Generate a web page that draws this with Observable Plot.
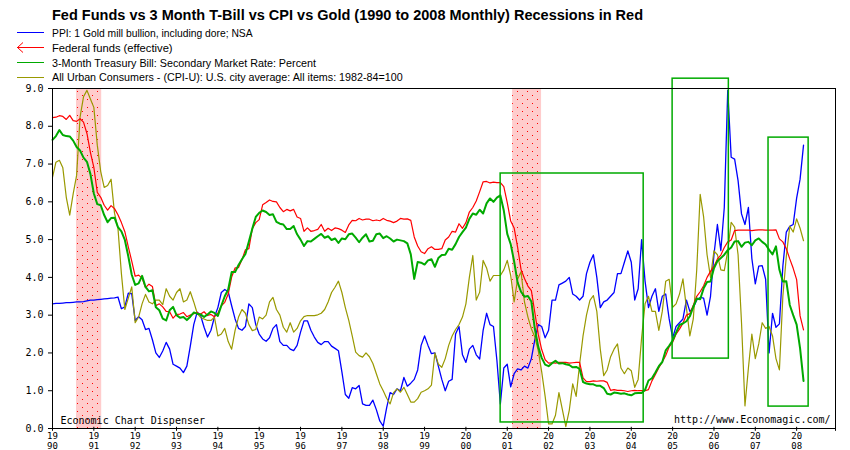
<!DOCTYPE html>
<html><head><meta charset="utf-8">
<script src="https://cdn.jsdelivr.net/npm/d3@7"></script>
<script src="https://cdn.jsdelivr.net/npm/@observablehq/plot@0.6"></script>
<style>
body{margin:0;background:#fff;width:850px;height:450px;overflow:hidden;font-family:"Liberation Sans",Arial,sans-serif;position:relative;}
#header{position:absolute;left:0;top:0;width:850px;height:84px;z-index:2;pointer-events:none;}
#chart{padding-top:70px;}
#title{position:absolute;left:52px;top:8px;font:bold 14px "Liberation Sans",Arial,sans-serif;line-height:14px;white-space:nowrap;transform-origin:0 0;color:#000;}
.leg{position:absolute;left:52px;font:11px "Liberation Sans",Arial,sans-serif;line-height:12px;white-space:nowrap;transform-origin:0 50%;color:#000;}
#legsvg{position:absolute;left:0;top:0;}
</style></head><body>
<div id="header">
<svg id="legsvg" width="60" height="84">
<line x1="17" y1="32.5" x2="44" y2="32.5" stroke="#0000ff"/>
<line x1="17" y1="47.5" x2="44" y2="47.5" stroke="#ff0000"/>
<polyline points="23,42.5 17.5,47.5 23,52.5" fill="none" stroke="#ff0000"/>
<line x1="17" y1="62.5" x2="44" y2="62.5" stroke="#00aa00"/>
<line x1="17" y1="77.5" x2="44" y2="77.5" stroke="#999900"/>
</svg>
<div id="title">Fed Funds vs 3 Month T-Bill vs CPI vs Gold (1990 to 2008 Monthly) Recessions in Red</div>
<div class="leg" id="l1" style="top:26.6px">PPI: 1 Gold mill bullion, including dore; NSA</div>
<div class="leg" id="l2" style="top:41.6px">Federal funds (effective)</div>
<div class="leg" id="l3" style="top:56.6px">3-Month Treasury Bill: Secondary Market Rate: Percent</div>
<div class="leg" id="l4" style="top:71.3px">All Urban Consumers - (CPI-U): U.S. city average: All items: 1982-84=100</div>
</div>
<div id="chart"></div>
<script>
// ---- data (monthly, starting January 1990) ----
const startYear = 1990;

const fedFunds = [
8.23,8.24,8.28,8.26,8.18,8.29,8.15,8.13,8.20,8.11,7.81,7.31,
6.91,6.25,6.12,5.91,5.78,5.90,5.82,5.66,5.45,5.21,4.81,4.43,
4.03,4.06,3.98,3.73,3.82,3.76,3.25,3.30,3.22,3.10,3.09,2.92,
3.02,3.03,3.07,2.96,3.00,3.04,3.06,3.03,3.09,2.99,3.02,2.96,
3.05,3.25,3.34,3.56,4.01,4.25,4.26,4.47,4.73,4.76,5.29,5.45,
5.53,5.92,5.98,6.05,6.01,6.00,5.85,5.74,5.80,5.76,5.80,5.60,
5.56,5.22,5.31,5.22,5.24,5.27,5.40,5.22,5.30,5.24,5.31,5.29,
5.25,5.19,5.39,5.51,5.50,5.56,5.52,5.54,5.54,5.50,5.52,5.50,
5.56,5.51,5.49,5.45,5.49,5.56,5.54,5.55,5.51,5.07,4.83,4.68,
4.63,4.76,4.81,4.74,4.74,4.76,4.99,5.07,5.22,5.20,5.42,5.30,
5.45,5.73,5.85,6.02,6.27,6.53,6.54,6.50,6.52,6.51,6.51,6.40,
5.98,5.49,5.31,4.80,4.21,3.97,3.77,3.65,3.07,2.49,2.09,1.82,
1.73,1.74,1.73,1.75,1.75,1.75,1.73,1.74,1.75,1.75,1.34,1.24,
1.24,1.26,1.25,1.26,1.26,1.22,1.01,1.03,1.01,1.01,1.00,0.98,
1.00,1.01,1.00,1.00,1.00,1.03,1.26,1.43,1.61,1.76,1.93,2.16,
2.28,2.50,2.63,2.79,3.00,3.04,3.26,3.50,3.62,3.78,4.00,4.16,
4.29,4.49,4.59,4.79,4.94,4.99,5.24,5.25,5.25,5.25,5.25,5.24,
5.25,5.26,5.26,5.25,5.25,5.25,5.26,5.02,4.94,4.76,4.49,4.24,
3.94,2.98,2.61];

const tBill3m = [
7.64,7.74,7.90,7.77,7.74,7.73,7.62,7.45,7.36,7.17,7.06,6.74,
6.22,5.94,5.91,5.65,5.46,5.57,5.58,5.33,5.22,4.99,4.56,4.07,
3.80,3.84,4.04,3.75,3.63,3.66,3.21,3.13,2.91,2.86,3.13,3.22,
3.00,2.93,2.95,2.87,2.96,3.07,3.04,3.02,2.95,3.02,3.10,3.06,
2.98,3.25,3.50,3.68,4.14,4.14,4.33,4.48,4.62,4.95,5.29,5.60,
5.71,5.77,5.73,5.65,5.67,5.47,5.42,5.40,5.28,5.28,5.36,5.14,
5.00,4.83,4.96,4.95,5.02,5.09,5.15,5.05,5.09,4.99,5.03,4.91,
5.03,5.01,5.14,5.16,5.05,4.93,5.05,5.14,4.95,4.97,5.14,5.16,
5.04,5.09,5.03,4.95,5.00,4.98,4.96,4.90,4.61,3.96,4.41,4.39,
4.34,4.45,4.48,4.28,4.51,4.59,4.60,4.76,4.73,4.88,5.07,5.20,
5.32,5.55,5.69,5.66,5.79,5.69,5.96,6.09,6.00,6.11,6.17,5.77,
5.15,4.88,4.42,3.87,3.62,3.49,3.51,3.36,2.64,2.16,1.87,1.69,
1.65,1.73,1.79,1.72,1.73,1.70,1.68,1.62,1.63,1.58,1.23,1.19,
1.17,1.17,1.13,1.13,1.07,0.92,0.90,0.95,0.94,0.92,0.93,0.90,
0.88,0.93,0.94,0.94,1.02,1.27,1.33,1.48,1.65,1.76,2.07,2.19,
2.33,2.54,2.74,2.78,2.84,2.97,3.22,3.44,3.42,3.71,3.88,3.89,
4.24,4.43,4.51,4.60,4.72,4.79,4.95,4.96,4.81,4.92,4.94,4.85,
4.98,5.03,4.94,4.87,4.73,4.61,4.82,4.20,3.89,3.90,3.27,3.00,
2.75,2.12,1.26];

const goldPPI = [
3.30,3.31,3.31,3.32,3.33,3.33,3.34,3.35,3.35,3.36,3.38,3.40,
3.40,3.41,3.42,3.43,3.44,3.45,3.46,3.48,3.17,3.22,3.58,3.57,
2.86,2.96,2.88,2.62,2.65,2.35,2.00,1.88,2.05,2.28,2.10,1.70,
1.65,1.60,1.48,1.65,2.18,2.75,3.08,2.99,2.68,2.42,2.60,2.95,
3.20,3.60,3.68,3.62,3.25,2.90,2.65,2.60,2.70,3.30,3.20,2.75,
2.50,2.37,2.31,2.40,2.65,2.75,2.30,2.20,2.20,2.10,2.06,2.20,
2.55,2.85,2.85,2.60,2.42,2.28,2.22,2.30,2.30,2.18,2.12,2.06,
1.50,0.90,0.80,1.08,1.05,1.14,0.65,0.61,0.61,0.75,0.50,0.20,
0.06,0.55,0.95,0.90,1.05,1.00,1.35,1.12,1.20,1.30,1.55,2.20,
2.45,2.20,1.98,2.00,1.65,1.30,1.00,1.25,1.30,2.50,2.70,1.95,
1.75,2.10,2.20,1.95,1.84,2.60,3.05,2.75,2.70,1.80,0.65,1.60,
1.70,1.10,1.45,1.58,1.55,1.65,1.60,1.85,2.35,2.75,2.70,2.40,
2.60,3.40,3.40,3.80,3.85,3.90,4.00,3.56,3.50,3.40,3.50,4.10,
4.40,4.60,4.00,3.20,3.35,3.40,3.50,3.60,4.10,4.10,4.40,4.70,
4.40,3.40,3.70,5.00,3.90,3.20,3.50,3.70,3.10,3.50,3.56,2.90,
2.40,2.70,2.80,2.90,3.40,3.10,3.20,3.40,3.47,3.45,3.00,3.50,
4.60,5.40,4.71,5.85,8.95,7.18,7.13,6.56,5.68,5.40,5.85,4.50,
3.83,4.30,4.31,3.95,2.00,3.05,2.68,2.77,4.30,5.20,5.35,5.40,
6.10,6.60,7.50];

const cpiU = [
6.65,7.05,7.10,6.90,6.12,5.65,6.21,6.70,8.24,8.78,8.95,8.72,
8.50,7.50,6.80,6.38,6.43,6.60,5.70,5.30,4.10,3.15,3.45,3.75,
2.80,2.95,3.30,3.55,3.35,3.30,3.40,3.40,3.28,3.70,3.50,3.40,
3.60,3.70,3.35,3.40,3.62,3.35,3.05,2.94,2.90,2.86,2.86,2.95,
2.45,2.50,2.65,2.30,2.10,2.60,2.95,3.15,3.05,2.75,2.59,2.62,
2.95,2.90,3.00,3.35,3.47,3.15,3.00,2.68,2.55,2.80,2.55,2.65,
2.85,2.96,2.99,2.99,2.99,3.01,3.05,3.15,3.35,3.60,3.74,3.90,
3.60,3.20,2.86,2.45,2.02,1.93,1.89,2.00,1.90,1.72,1.45,1.18,
1.00,0.80,0.65,0.95,1.05,0.96,1.09,0.90,0.70,0.70,0.79,0.96,
1.00,1.05,1.15,2.00,1.70,1.62,1.85,2.20,2.45,2.62,2.75,2.95,
3.30,4.00,4.58,3.40,3.61,4.45,4.25,3.90,4.05,4.05,4.05,4.20,
4.45,4.05,3.35,3.95,4.15,3.35,2.95,2.64,2.42,2.06,1.50,0.85,
0.12,0.12,0.35,0.95,0.50,0.05,0.48,1.18,0.85,1.70,2.45,3.00,
3.39,3.52,3.10,2.10,1.40,1.55,1.90,2.10,2.24,1.60,1.45,1.60,
1.53,1.09,1.30,2.40,3.30,3.50,3.10,3.10,2.60,3.10,3.90,3.95,
3.21,3.30,3.56,3.96,3.20,2.45,2.90,4.20,6.20,5.60,4.60,4.00,
4.70,4.60,4.20,4.18,4.70,5.46,5.33,4.60,2.80,0.60,1.60,2.50,
1.85,2.24,2.80,2.65,2.70,2.45,1.85,1.55,3.50,4.55,5.35,5.20,
5.55,5.30,4.97];

const xTickYears = [1990,1991,1992,1993,1994,1995,1996,1997,1998,1999,2000,2001,2002,2003,2004,2005,2006,2007,2008];
const yTickValues = [0,1,2,3,4,5,6,7,8,9];

const recessionStart = [1990.58, 2001.13];
const recessionEnd   = [1991.19, 2001.83];

const boxStart = [2000.84, 2005.00, 2007.32];
const boxEnd   = [2004.30, 2006.36, 2008.29];
const boxLow   = [0.16, 1.85, 0.58];
const boxHigh  = [6.75, 9.26, 7.70];

// ---- tables ----
const rows = arr => arr.map((v, i) => ({date: startYear + i / 12, value: v}));
const recessions = recessionStart.map((s, i) => ({start: s, end: recessionEnd[i]}));
const boxes = boxStart.map((s, i) => ({x1: s, x2: boxEnd[i], y1: boxLow[i], y2: boxHigh[i]}));
const xEnd = 2008.94;

const chart = Plot.plot({
  width: 850, height: 380,
  marginLeft: 52, marginRight: 15, marginTop: 18, marginBottom: 22,
  style: {fontFamily: "'DejaVu Sans Mono', 'Liberation Mono', monospace", fontSize: "10px", color: "#000", background: "#fff"},
  x: {domain: [1990, xEnd]},
  y: {domain: [0, 9]},
  marks: [
    Plot.rect(recessions, {x1: "start", x2: "end", fill: "url(#dots)"}),
    Plot.line(rows(goldPPI), {x: "date", y: "value", stroke: "#0000ff", strokeWidth: 1.3}),
    Plot.line(rows(cpiU), {x: "date", y: "value", stroke: "#999900", strokeWidth: 1.2}),
    Plot.line(rows(fedFunds), {x: "date", y: "value", stroke: "#ff0000", strokeWidth: 1.2}),
    Plot.line(rows(tBill3m), {x: "date", y: "value", stroke: "#00aa00", strokeWidth: 2}),
    Plot.rect(boxes, {x1: "x1", x2: "x2", y1: "y1", y2: "y2", fill: "none", stroke: "#00aa00", strokeWidth: 1.5}),
    Plot.frame({stroke: "#000"}),
    Plot.axisX({ticks: [...xTickYears, xEnd], tickSize: 4, tickPadding: 0, fontSize: 9, lineHeight: 1.17, dy: -1.2,
      tickFormat: d => Number.isInteger(d) ? String(d).slice(0, 2) + "\n" + String(d).slice(2) : ""}),
    Plot.axisY({ticks: yTickValues, tickSize: 4, tickPadding: 5, tickFormat: d3.format(".1f")}),
    Plot.text(["Economic Chart Dispenser"], {frameAnchor: "bottom-left", textAnchor: "start", dx: 8, dy: -5}),
    Plot.text(["http://www.Economagic.com/"], {frameAnchor: "bottom-right", textAnchor: "end", dx: -5, dy: -6})
  ]
});

const ns = "http://www.w3.org/2000/svg";
const defs = document.createElementNS(ns, "defs");
const pat = document.createElementNS(ns, "pattern");
pat.setAttribute("id", "dots"); pat.setAttribute("width", "10"); pat.setAttribute("height", "8");
pat.setAttribute("patternUnits", "userSpaceOnUse");
const bg = document.createElementNS(ns, "rect");
bg.setAttribute("width", "10"); bg.setAttribute("height", "8"); bg.setAttribute("fill", "#ffcccc");
pat.appendChild(bg);
[[2,1],[7,5]].forEach(([x, y]) => {
  const d = document.createElementNS(ns, "rect");
  d.setAttribute("x", x); d.setAttribute("y", y); d.setAttribute("width", "1"); d.setAttribute("height", "1");
  d.setAttribute("fill", "#ff0000");
  pat.appendChild(d);
});
defs.appendChild(pat);
chart.insertBefore(defs, chart.firstChild);
document.getElementById("chart").appendChild(chart);

function fit(id, w) {
  const el = document.getElementById(id);
  const r = el.getBoundingClientRect().width;
  el.style.transform = `scaleX(${w / r})`;
}
fit("title", 591);
fit("l1", 200.6);
fit("l2", 120.6);
fit("l3", 264);
fit("l4", 350.6);
</script>
</body></html>
